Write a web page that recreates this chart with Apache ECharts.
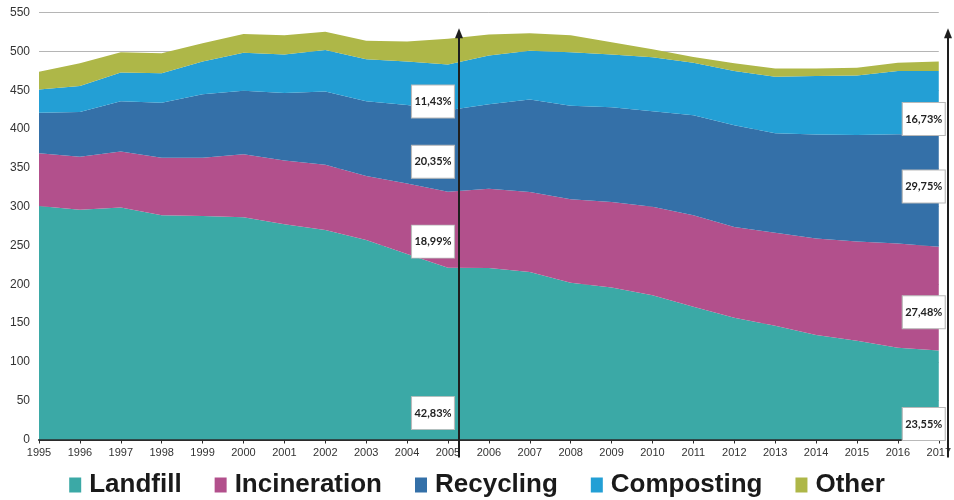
<!DOCTYPE html>
<html>
<head>
<meta charset="utf-8">
<script src="https://cdn.jsdelivr.net/npm/echarts@6/dist/echarts.min.js"></script>
<style>
  html, body { margin: 0; padding: 0; background: #ffffff; }
  #chart { width: 954px; height: 500px; }
</style>
</head>
<body>
<div id="chart"></div>
<script>
// Municipal waste treatment, stacked by treatment type (values per year)
const years = ['1995','1996','1997','1998','1999','2000','2001','2002','2003','2004','2005','2006',
               '2007','2008','2009','2010','2011','2012','2013','2014','2015','2016','2017'];

const landfill     = [301, 296, 299, 289, 288, 286.5, 277.5, 270, 257, 239, 221.2, 221,
                      216, 202, 196, 186, 171, 157, 146.5, 134.7, 127.4, 118.3, 114.7];
const incineration = [68, 68.5, 72, 74, 75, 81, 82, 84, 82.5, 91, 98.1, 102,
                      103, 107.5, 110, 114, 118, 117, 120, 124.3, 127.6, 134.2, 133.8];
const recycling    = [52, 57.5, 65, 71, 82, 82, 87, 94.5, 96.5, 101, 105.1, 109,
                      119, 120.5, 122, 123, 129, 131, 128.1, 134, 137.4, 140.8, 144.9];
const composting   = [30, 33.5, 37, 38, 42, 49, 49.5, 53.5, 54, 56, 59.0, 63,
                      63, 69, 68, 69.5, 67.5, 70, 72.9, 75.4, 76.6, 81.6, 81.5];
const other        = [23, 29.5, 26, 25.7, 23.5, 24, 25, 23.5, 24, 26, 33.1, 27,
                      22.5, 22, 16, 10.5, 7.5, 10, 10.5, 9.6, 10, 10.7, 12.1];

const seriesNames  = ['Landfill', 'Incineration', 'Recycling', 'Composting', 'Other'];
const seriesColors = ['#3ba9a6', '#b2508c', '#3470a8', '#239fd5', '#aeb748'];

// Share labels (landfill, incineration, recycling, composting) for 2005 and 2017
const shares2005 = ['42,83%', '18,99%', '20,35%', '11,43%'];
const shares2017 = ['23,55%', '27,48%', '29,75%', '16,73%'];
// Vertical placement of each share box, in axis units
const shareY2005 = [34, 255, 358, 435.6];
const shareY2017 = [20, 164, 326, 413];

const yMin = 0, yMax = 550, yStep = 50;

const valueSets = [landfill, incineration, recycling, composting, other];

const stackSeries = seriesNames.map((name, i) => ({
  name: name,
  type: 'line',
  stack: 'waste',
  data: valueSets[i],
  symbol: 'none',
  lineStyle: { width: 0 },
  areaStyle: { color: seriesColors[i], opacity: 1 },
  itemStyle: { color: seriesColors[i] },
  emphasis: { disabled: true },
  z: 2
}));

const shareMarks = [];
shares2005.forEach((t, i) => shareMarks.push({ name: t, coord: ['2005', shareY2005[i]], symbolOffset: [-15, 0] }));
shares2017.forEach((t, i) => shareMarks.push({ name: t, coord: ['2017', shareY2017[i]], symbolOffset: [-15, 0] }));

const annotationSeries = {
  name: 'shares',
  type: 'line',
  data: [],
  silent: true,
  z: 10,
  markPoint: {
    symbol: 'rect',
    symbolSize: [43, 33],
    silent: true,
    animation: false,
    itemStyle: { color: '#ffffff', borderColor: '#b9b9b9', borderWidth: 1 },
    label: {
      show: true,
      position: 'inside',
      formatter: p => p.name,
      color: '#222222',
      fontWeight: 'bold',
      fontSize: 11,
      fontFamily: 'Lato'
    },
    data: shareMarks
  }
};

const chart = echarts.init(document.getElementById('chart'), null, { renderer: 'canvas' });

chart.setOption({
  animation: false,
  backgroundColor: '#ffffff',
  grid: { left: 39, right: 12, top: 12.7, bottom: 60.5, containLabel: false },
  legend: {
    data: seriesNames,
    left: 'center',
    top: 467,
    icon: 'rect',
    itemWidth: 12,
    itemHeight: 15,
    itemGap: 33,
    selectedMode: false,
    textStyle: {
      fontFamily: 'Liberation Sans',
      fontWeight: 'bold',
      fontSize: 26,
      color: '#1a1a1a',
      padding: [0, 0, 0, 3]
    }
  },
  xAxis: {
    type: 'category',
    data: years,
    boundaryGap: false,
    axisLine: { show: true, lineStyle: { color: '#2b2b2b', width: 2 } },
    axisTick: { show: true, alignWithLabel: true, length: 4, lineStyle: { color: '#2b2b2b', width: 1 } },
    axisLabel: { color: '#333333', fontFamily: 'Liberation Sans', fontSize: 11, margin: 8, interval: 0 },
    splitLine: { show: false }
  },
  yAxis: {
    type: 'value',
    min: yMin,
    max: yMax,
    interval: yStep,
    axisLine: { show: false },
    axisTick: { show: false },
    axisLabel: { color: '#333333', fontFamily: 'Liberation Sans', fontSize: 12, margin: 9 },
    splitLine: { show: true, lineStyle: { color: '#b5b5b5', width: 1 } }
  },
  series: stackSeries.concat([annotationSeries])
});

// Arrows marking the 2005 and 2017 reference years
function arrowAt(year, dx) {
  const base = chart.convertToPixel({ gridIndex: 0 }, [year, yMin]);
  const tip = chart.convertToPixel({ gridIndex: 0 }, [year, 530]);
  const x = Math.round(base[0] + dx);
  const yBottom = base[1] + 18;
  const yTip = tip[1];
  return [
    {
      type: 'line',
      z: 100,
      silent: true,
      shape: { x1: x, y1: yBottom, x2: x, y2: yTip + 6 },
      style: { stroke: '#1e1e1e', lineWidth: 2 }
    },
    {
      type: 'polygon',
      z: 100,
      silent: true,
      shape: { points: [[x - 4, yTip + 10], [x, yTip], [x + 4, yTip + 10]] },
      style: { fill: '#1e1e1e' }
    }
  ];
}

chart.setOption({
  graphic: { elements: arrowAt('2005', 11).concat(arrowAt('2017', 9)) }
});
</script>
</body>
</html>
